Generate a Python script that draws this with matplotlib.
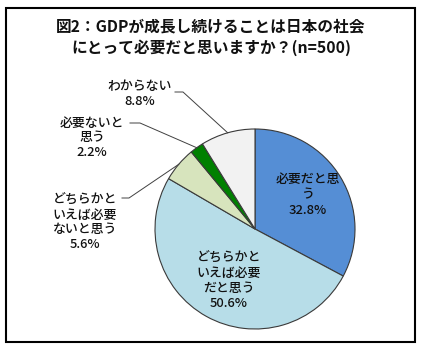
import numpy as np
import matplotlib
matplotlib.use("Agg")
import matplotlib.pyplot as plt
from matplotlib.patches import Rectangle

plt.rcParams['font.family'] = ['Noto Sans CJK JP', 'DejaVu Sans']

# Data
categories = ["必要だと思う", "どちらかといえば必要だと思う", "どちらかといえば必要ないと思う",
              "必要ないと思う", "わからない"]
values = [32.8, 50.6, 5.6, 2.2, 8.8]
label_texts = ["必要だと思\nう\n32.8%", "どちらかと\nいえば必要\nだと思う\n50.6%",
               "どちらかと\nいえば必要\nないと思う\n5.6%", "必要ないと\n思う\n2.2%",
               "わからない\n8.8%"]
colors = ["#558ED5", "#B7DDE8", "#D7E4BD", "#008000", "#F2F2F2"]
title = "図2：GDPが成長し続けることは日本の社会\nにとって必要だと思いますか？(n=500)"

W, H = 423, 355
fig = plt.figure(figsize=(W / 100, H / 100), dpi=100)
fig.patch.set_facecolor("white")

# pie axes: center (255, 229) px, radius 100 px
cx, cy, r = 255, 229, 100
ax = fig.add_axes([(cx - r) / W, (H - cy - r) / H, 2 * r / W, 2 * r / H])
ax.axis("off")

wedges, _ = ax.pie(values, colors=colors, startangle=90, counterclock=False, radius=1,
                   wedgeprops=dict(edgecolor="#3a3a3a", linewidth=0.8))
ax.set_xlim(-1, 1)
ax.set_ylim(-1, 1)
ax.set_aspect("equal")

def px2d(px, py):
    return (px - cx) / r, (cy - py) / r

# label positions (pixel centers) and leader lines
label_pos = [(308, 195), (229, 281), (85, 222.5), (92, 138), (140, 94)]
leader_start = [None, None, ((122, 198), (129, 198)), ((130, 123), (140, 123)), ((175, 92), (183, 92))]

for i, w in enumerate(wedges):
    x, y = px2d(*label_pos[i])
    ax.text(x, y, label_texts[i], ha="center", va="center", fontsize=9.3,
            fontweight="medium", linespacing=1.2, color="#111111", clip_on=False)
    if leader_start[i] is not None:
        mid = np.deg2rad((w.theta1 + w.theta2) / 2)
        ex, ey = np.cos(mid), np.sin(mid)
        (ax1, ay1), (ax2, ay2) = leader_start[i]
        p1 = px2d(ax1, ay1)
        p2 = px2d(ax2, ay2)
        ax.plot([p1[0], p2[0], ex], [p1[1], p2[1], ey], color="#404040",
                linewidth=0.7, clip_on=False)

fig.text(211 / W, 1 - 37 / H, title, ha="center", va="center", fontsize=11.3,
         fontweight="bold", linespacing=1.35, color="#111111")

fig.patches.append(Rectangle((5.5 / W, (H - 342) / H), (415 - 5.5) / W, (342 - 8) / H,
                             transform=fig.transFigure, fill=False, edgecolor="black",
                             linewidth=1.5))

fig.savefig("out.png", dpi=100)
